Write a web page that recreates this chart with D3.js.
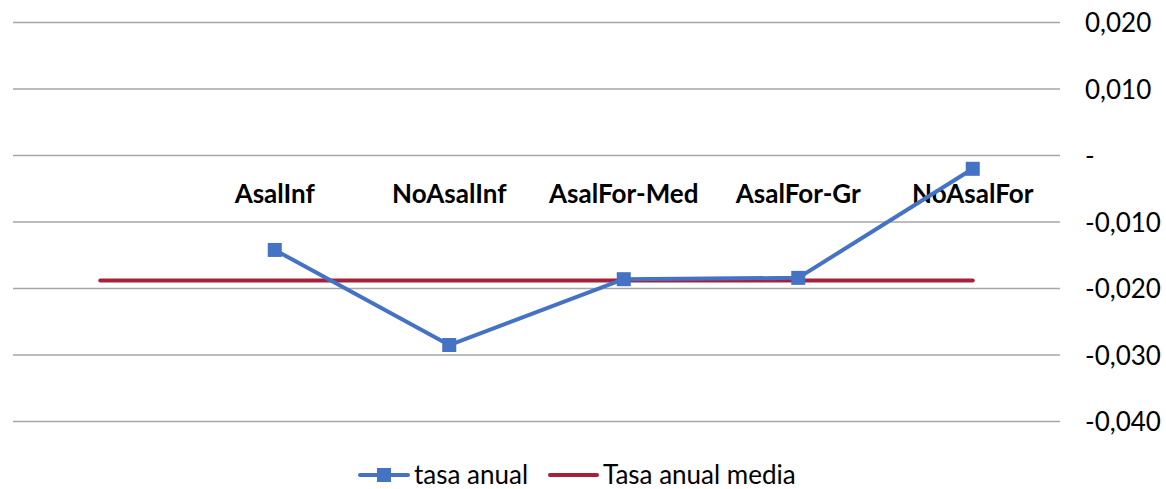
<!DOCTYPE html>
<html><head><meta charset="utf-8">
<script src="https://cdn.jsdelivr.net/npm/d3@7"></script>
<style>body{margin:0;background:#fff}svg{display:block}text{font-family:Lato,"Open Sans",sans-serif}</style>
</head><body><svg id="c" width="1166" height="489"></svg>
<script>
const categories = ["", "AsalInf", "NoAsalInf", "AsalFor-Med", "AsalFor-Gr", "NoAsalFor"];
const tasaAnual = [null, -0.0142, -0.0285, -0.0186, -0.0184, -0.0020];
const tasaMedia = [-0.0188, -0.0188, -0.0188, -0.0188, -0.0188, -0.0188];
const yTicks = [0.02, 0.01, 0, -0.01, -0.02, -0.03, -0.04];
const yTickLabels = ["0,020", "0,010", "-", "-0,010", "-0,020", "-0,030", "-0,040"];
const seriesNames = ["tasa anual", "Tasa anual media"];

const svg = d3.select("#c");
const L = 13, R = 1060, T = 22.5, B = 421.5;
const x = d3.scaleBand().domain(categories.map((d,i)=>i)).range([L, R]).padding(0);
const xc = i => x(i) + x.bandwidth()/2;
const y = d3.scaleLinear().domain([-0.04, 0.02]).range([B, T]);
const blue = "#4472C4", red = "#A5213A";
const FONT = "Lato,'Open Sans',sans-serif";

// gridlines
svg.append("g").selectAll("line").data(yTicks).join("line")
  .attr("x1", L).attr("x2", R).attr("y1", d=>y(d)).attr("y2", d=>y(d))
  .attr("stroke", "#a6a6a6").attr("stroke-width", 1.3);

// y axis labels (right)
const yAxis = d3.axisRight(y).tickValues(yTicks).tickSize(0).tickPadding(0)
  .tickFormat((d,i)=>yTickLabels[i]);
const ya = svg.append("g").attr("transform", `translate(1085,0)`).call(yAxis);
ya.select(".domain").remove();
ya.selectAll("text").attr("font-size", 26).attr("fill", "#000").attr("dy", "0.35em").attr("x", 0)
  .style("font-family", FONT);

// category labels near zero line
const xAxis = d3.axisBottom(x).tickSize(0).tickPadding(0).tickFormat(i=>categories[i]);
const xa = svg.append("g").attr("transform", `translate(0,${y(0)})`).call(xAxis);
xa.select(".domain").remove();
xa.selectAll("text").attr("font-size", 26).attr("font-weight", "bold").attr("fill", "#000")
  .attr("y", 0).attr("dy", 47).style("font-family", FONT);

// mean line
const lineGen = d3.line().defined(d=>d.v!=null).x(d=>xc(d.i)).y(d=>y(d.v));
svg.append("path").datum(tasaMedia.map((v,i)=>({v,i})))
  .attr("d", lineGen).attr("fill","none").attr("stroke", red).attr("stroke-width", 4)
  .attr("stroke-linecap","round");

// tasa anual
const pts = tasaAnual.map((v,i)=>({v,i})).filter(d=>d.v!=null);
svg.append("path").datum(pts).attr("d", lineGen).attr("fill","none")
  .attr("stroke", blue).attr("stroke-width", 4).attr("stroke-linejoin","round");
svg.append("g").selectAll("rect").data(pts).join("rect")
  .attr("x", d=>xc(d.i)-7).attr("y", d=>y(d.v)-7).attr("width",14).attr("height",14)
  .attr("fill", blue);

// legend
const LY = 475;
const lg = svg.append("g");
lg.append("line").attr("x1",360).attr("x2",408).attr("y1",LY).attr("y2",LY)
  .attr("stroke",blue).attr("stroke-width",4).attr("stroke-linecap","round");
lg.append("rect").attr("x",377).attr("y",LY-7).attr("width",14).attr("height",14).attr("fill",blue);
lg.append("text").attr("x",414).attr("y",LY).attr("dy","0.35em").attr("font-size",26).text(seriesNames[0]);
lg.append("line").attr("x1",550).attr("x2",597).attr("y1",LY).attr("y2",LY)
  .attr("stroke",red).attr("stroke-width",4).attr("stroke-linecap","round");
lg.append("text").attr("x",603).attr("y",LY).attr("dy","0.35em").attr("font-size",26).text(seriesNames[1]);
</script></body></html>
